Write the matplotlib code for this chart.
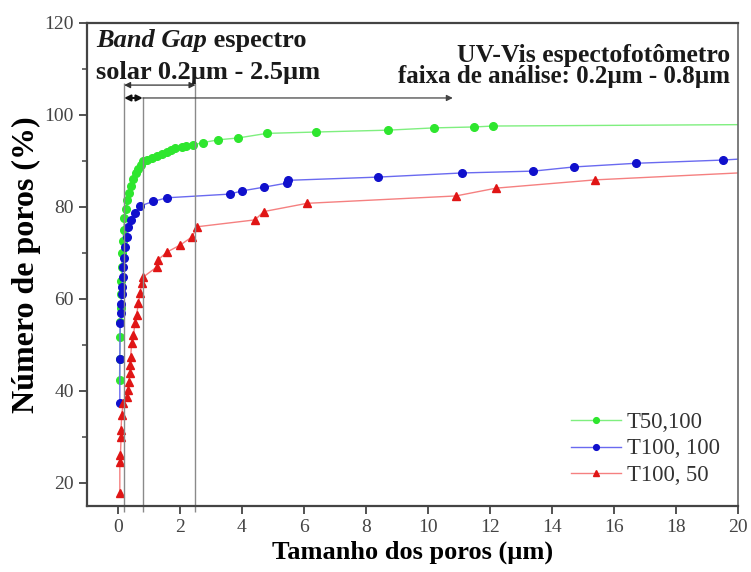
import matplotlib
matplotlib.use("Agg")
import matplotlib.pyplot as plt
from matplotlib.ticker import MultipleLocator

plt.rcParams['font.family'] = ['Liberation Serif', 'DejaVu Serif']

# T50,100
green_x = [0.05, 0.06, 0.07, 0.08, 0.09, 0.10, 0.11, 0.12, 0.14, 0.16, 0.18, 0.21,
           0.25, 0.30, 0.36, 0.42, 0.50, 0.58, 0.66, 0.74, 0.82, 0.95, 1.10, 1.26,
           1.42, 1.58, 1.72, 1.84, 2.05, 2.20, 2.42, 2.74, 3.23, 3.87, 4.80, 6.40,
           8.70, 10.2, 11.5, 12.1, 20.0]
green_y = [42.4, 47.0, 51.7, 55.0, 58.0, 61.0, 64.0, 67.0, 70.0, 72.5, 75.0, 77.5,
           79.5, 81.5, 83.0, 84.5, 86.0, 87.3, 88.3, 89.2, 89.9, 90.3, 90.7, 91.1,
           91.6, 92.0, 92.4, 92.8, 93.0, 93.2, 93.5, 94.0, 94.6, 95.0, 96.0, 96.3,
           96.7, 97.2, 97.4, 97.6, 97.9]

# T100, 100
blue_x = [0.06, 0.06, 0.07, 0.09, 0.11, 0.12, 0.13, 0.15, 0.16, 0.20, 0.23, 0.28,
          0.33, 0.41, 0.55, 0.71, 1.13, 1.58, 3.60, 4.00, 4.70, 5.45, 5.50, 8.40,
          11.1, 13.4, 14.7, 16.7, 19.5, 20.0]
blue_y = [37.4, 47.0, 54.8, 57.0, 59.0, 61.0, 62.6, 64.8, 67.0, 69.0, 71.3, 73.5,
          75.6, 77.2, 78.7, 80.2, 81.2, 82.0, 82.8, 83.5, 84.3, 85.2, 85.8, 86.5,
          87.4, 87.8, 88.7, 89.5, 90.2, 90.4]

# T100, 50
red_x = [0.06, 0.06, 0.08, 0.10, 0.10, 0.12, 0.17, 0.28, 0.33, 0.35, 0.39, 0.39,
         0.41, 0.44, 0.50, 0.55, 0.60, 0.66, 0.71, 0.77, 0.82, 1.26, 1.29, 1.58,
         2.00, 2.39, 2.55, 4.42, 4.70, 6.10, 10.9, 12.2, 15.4, 20.0]
red_y = [17.8, 24.6, 26.0, 30.0, 31.5, 34.8, 37.4, 38.7, 40.2, 42.0, 43.9, 45.6,
         47.4, 50.4, 52.2, 54.8, 56.5, 59.1, 61.3, 63.5, 64.8, 67.0, 68.5, 70.2,
         71.7, 73.5, 75.7, 77.2, 79.0, 80.8, 82.4, 84.1, 85.9, 87.4]

fig = plt.figure(figsize=(7.51, 5.72), dpi=100)
ax = fig.add_axes([0.1158, 0.1154, 0.8669, 0.8444])

series = [
    (green_x, green_y, 'T50,100', 'o', '#7fef7f', '#2ee62e'),
    (blue_x, blue_y, 'T100, 100', 'o', '#6a6af0', '#1010cc'),
    (red_x, red_y, 'T100, 50', '^', '#f58080', '#e01515'),
]
for xs, ys, lab, mk, lc, mc in series:
    ax.plot(xs, ys, color=lc, lw=1.0, marker=mk, ms=5.5, mfc=mc, mec=mc,
            markevery=list(range(len(xs) - 1)), label=lab)

# vertical guide lines
ax.vlines([0.2, 2.5], 13.8, 107, colors='#8a8a8a', lw=1.0, clip_on=False)
ax.vlines([0.8], 13.8, 104, colors='#8a8a8a', lw=1.0, clip_on=False)

# arrows
ax.annotate('', xy=(0.2, 106.5), xytext=(2.5, 106.5),
            arrowprops=dict(arrowstyle='<|-|>', color='#333333', lw=0.9,
                            mutation_scale=9, shrinkA=0, shrinkB=0))
ax.annotate('', xy=(0.2, 103.7), xytext=(0.8, 103.7),
            arrowprops=dict(arrowstyle='<|-|>', color='#111111', lw=1.5,
                            mutation_scale=9, shrinkA=0, shrinkB=0))
ax.annotate('', xy=(10.8, 103.7), xytext=(0.8, 103.7),
            arrowprops=dict(arrowstyle='-|>', color='#444444', lw=0.9,
                            mutation_scale=9, shrinkA=0, shrinkB=0))

# annotations
t1 = ax.text(-0.7, 116.3, 'Band Gap', fontsize=19, fontstyle='italic',
             fontweight='bold', va='center', ha='left', color='#1a1a1a')
ax.annotate(' espectro', xy=(1, 0), xycoords=t1, va='bottom', ha='left',
            fontsize=19, fontweight='bold', color='#1a1a1a')
ax.text(-0.7, 109.2, 'solar 0.2µm - 2.5µm', fontsize=19, fontweight='bold',
        va='center', ha='left', color='#1a1a1a')
ax.text(19.75, 113.0, 'UV-Vis espectofotômetro', fontsize=18.5, fontweight='bold',
        va='center', ha='right', color='#1a1a1a')
ax.text(19.75, 108.3, 'faixa de análise: 0.2µm - 0.8µm', fontsize=18,
        fontweight='bold', va='center', ha='right', color='#1a1a1a')

ax.set_xlim(-1, 20)
ax.set_ylim(15, 120)
ax.xaxis.set_major_locator(MultipleLocator(2))
ax.yaxis.set_major_locator(MultipleLocator(20))
ax.yaxis.set_minor_locator(MultipleLocator(10))
ax.tick_params(axis='both', which='major', direction='out', length=6, width=1.3,
               labelsize=14, labelcolor='#444444', color='#444444')
ax.tick_params(axis='y', which='minor', direction='out', length=3.5, width=1.1,
               color='#444444')
ax.tick_params(top=False, right=False)
for side in ['left', 'bottom', 'top']:
    ax.spines[side].set_linewidth(1.6)
    ax.spines[side].set_color('#444444')
ax.spines['right'].set_linewidth(1.2)
ax.spines['right'].set_color('#666666')

ax.set_xlabel('Tamanho dos poros (µm)', fontsize=19, fontweight='bold', labelpad=3)
ax.set_ylabel('Número de poros (%)', fontsize=23, fontweight='bold', labelpad=2)

ax.legend(loc='center right', bbox_to_anchor=(0.986, 0.118), borderaxespad=0,
          frameon=False, fontsize=16.3, handlelength=2.2, labelspacing=0.26,
          handletextpad=0.27, markerscale=0.75, labelcolor='#333333')

fig.savefig('out.png', dpi=100)
